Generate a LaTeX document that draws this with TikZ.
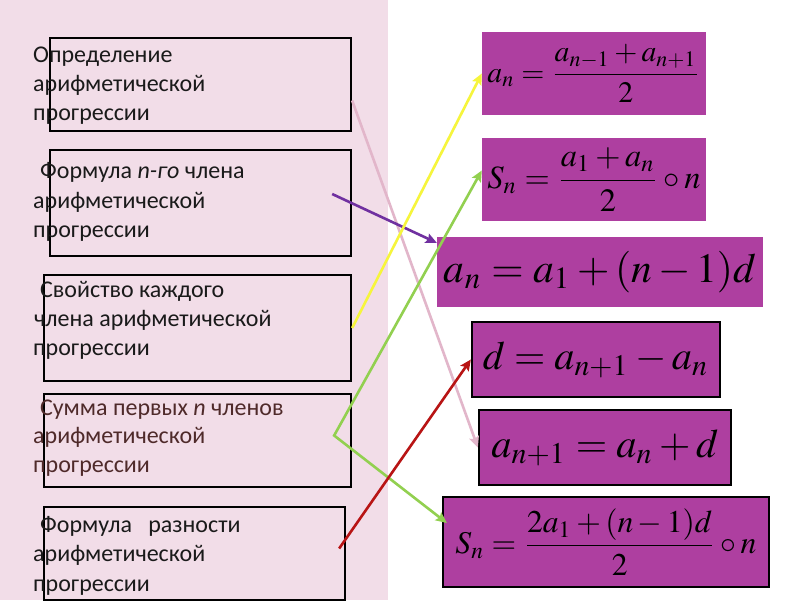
\documentclass[tikz,border=0pt]{standalone}
\usepackage{mathptmx}
\usepackage{fontspec}
\newfontfamily\labfont{Carlito}
\usetikzlibrary{arrows.meta}
\definecolor{bgpink}{HTML}{F2DDE8}
\definecolor{fmag}{HTML}{AE3FA0}
\definecolor{txtdark}{HTML}{1A1A1A}
\definecolor{txtbrown}{HTML}{4F2A2A}
\definecolor{apink}{HTML}{E2B6CA}
\definecolor{apurple}{HTML}{7030A0}
\definecolor{ayellow}{HTML}{F6F53C}
\definecolor{agreen}{HTML}{92D050}
\definecolor{ared}{HTML}{B81414}
\tikzset{
  lbox/.style={draw=black, line width=2.3pt, inner sep=0pt},
  fbox/.style={fill=fmag, inner sep=0pt},
  fboxb/.style={fill=fmag, draw=black, line width=2.3pt, inner sep=0pt},
  labtxt/.style={font=\labfont\fontsize{24}{28}\selectfont, inner sep=0pt},
  arr/.style={line width=2.6pt, -{Stealth[length=11pt,width=10pt,inset=2pt]}},
  darr/.style={line width=2.6pt, {Stealth[length=11pt,width=10pt,inset=2pt]}-{Stealth[length=11pt,width=10pt,inset=2pt]}}
}
\newcommand\labline[5]{%
  \node[labtxt, text=#5, anchor=base west] (#1) at (#2,#3) {#4};}
\begin{document}
\begin{tikzpicture}[x=1pt,y=-1pt]
\useasboundingbox (0,0) rectangle (800,600);
\fill[white] (0,0) rectangle (800,600);
\fill[bgpink] (0,0) rectangle (388,600);
% left boxes
\node[lbox, minimum width=301pt, minimum height=93pt] (b1) at (200.5,84.5) {};
\node[lbox, minimum width=301pt, minimum height=106pt] (b2) at (200.5,203) {};
\node[lbox, minimum width=307pt, minimum height=106pt] (b3) at (197.5,328) {};
\node[lbox, minimum width=307pt, minimum height=93pt] (b4) at (197.5,440.5) {};
\node[lbox, minimum width=301pt, minimum height=93pt] (b5) at (194.5,553.5) {};
% left texts
\labline{t1a}{33}{62}{Определение}{txtdark}
\labline{t1b}{33}{91}{арифметической}{txtdark}
\labline{t1c}{33}{120}{прогрессии}{txtdark}
\labline{t2a}{40}{178}{Формула {\itshape n-го} члена}{txtdark}
\labline{t2b}{33}{208}{арифметической}{txtdark}
\labline{t2c}{33}{237}{прогрессии}{txtdark}
\labline{t3a}{40}{297}{Свойство каждого}{txtdark}
\labline{t3b}{34}{326}{члена арифметической}{txtdark}
\labline{t3c}{33}{355}{прогрессии}{txtdark}
\labline{t4a}{40}{415}{Сумма первых {\itshape n} членов}{txtbrown}
\labline{t4b}{33}{443}{арифметической}{txtbrown}
\labline{t4c}{33}{472}{прогрессии}{txtbrown}
\labline{t5a}{40}{532}{Формула\ \ \ разности}{txtdark}
\labline{t5b}{33}{561}{арифметической}{txtdark}
\labline{t5c}{33}{591}{прогрессии}{txtdark}
% formula boxes
\node[fbox, minimum width=224pt, minimum height=83pt] (f1) at (594,73.5)
  {\resizebox{213pt}{!}{$\displaystyle a_n=\frac{a_{n-1}+a_{n+1}}{2}$}};
\node[fbox, minimum width=224pt, minimum height=83pt] (f2) at (594,179.5)
  {\resizebox{213pt}{!}{$\displaystyle S_n=\frac{a_1+a_n}{2}\circ n$}};
\node[fbox, minimum width=326pt, minimum height=70pt] (f3) at (600,272)
  {\resizebox{312pt}{!}{$a_n=a_1+(n-1)d$}};
\node[fboxb, minimum width=248pt, minimum height=75pt] (f4) at (596,359.5)
  {\resizebox{226pt}{!}{$d=a_{n+1}-a_n$}};
\node[fboxb, minimum width=252pt, minimum height=75pt] (f5) at (605,447.5)
  {\resizebox{227pt}{!}{$a_{n+1}=a_n+d$}};
\node[fboxb, minimum width=326pt, minimum height=90pt] (f6) at (606,542)
  {\resizebox{301pt}{!}{$\displaystyle S_n=\frac{2a_1+(n-1)d}{2}\circ n$}};
% connectors
\coordinate (gv) at ([xshift=-18pt,yshift=5pt]b4.east);
\draw[arr, apink] ([yshift=-16pt]b1.east) -- (f5.west);
\draw[arr, apurple] ([xshift=-20pt,yshift=9pt]b2.east) -- ([yshift=-6pt]f3.north west);
\draw[arr, ayellow] (b3.east) -- (f1.west);
\draw[darr, agreen] ([yshift=9pt]f2.west) -- (gv) -- ([xshift=5pt,yshift=19pt]f6.west);
\draw[arr, ared] ([xshift=-7pt,yshift=5pt]b5.east) -- (f4.west);
\end{tikzpicture}
\end{document}
